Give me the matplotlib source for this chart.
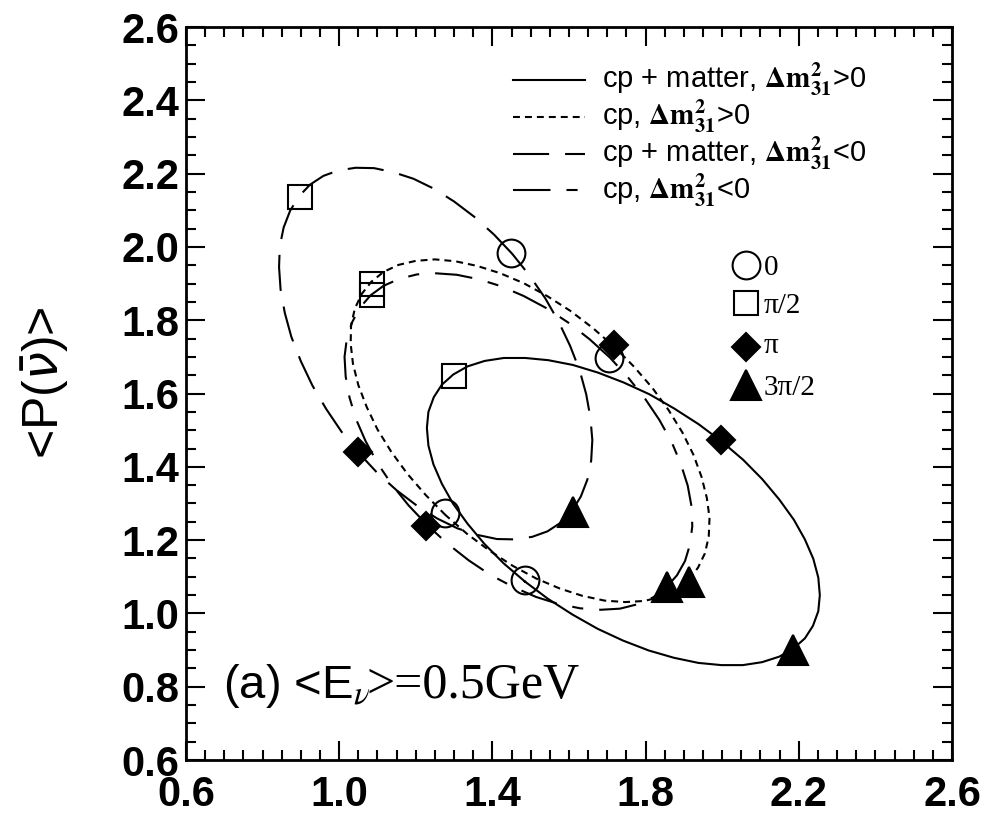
import numpy as np
import matplotlib
matplotlib.use('Agg')
import matplotlib.pyplot as plt
from matplotlib.ticker import MultipleLocator, FormatStrFormatter

plt.rcParams['lines.scale_dashes'] = False
plt.rcParams['mathtext.fontset'] = 'stix'

# trajectories in the (<P(nu)>, <P(nubar)>) plane
# cp + matter, dm^2_31 > 0  (solid)
sol_x = [1.485, 1.429, 1.379, 1.335, 1.297, 1.268, 1.246, 1.233, 1.229, 1.233, 1.247, 1.268,
         1.298, 1.335, 1.380, 1.430, 1.486, 1.546, 1.610, 1.676, 1.743, 1.810, 1.875, 1.939,
         1.999, 2.055, 2.105, 2.149, 2.187, 2.216, 2.238, 2.251, 2.255, 2.251, 2.237, 2.216,
         2.186, 2.149, 2.104, 2.054, 1.998, 1.938, 1.874, 1.808, 1.741, 1.675, 1.609, 1.545]
sol_y = [1.087, 1.137, 1.190, 1.245, 1.300, 1.354, 1.407, 1.458, 1.506, 1.550, 1.590, 1.624,
         1.652, 1.674, 1.689, 1.697, 1.697, 1.691, 1.678, 1.657, 1.630, 1.598, 1.559, 1.516,
         1.469, 1.419, 1.366, 1.311, 1.256, 1.202, 1.149, 1.098, 1.050, 1.006, 0.966, 0.932,
         0.904, 0.882, 0.867, 0.859, 0.859, 0.865, 0.879, 0.899, 0.926, 0.958, 0.997, 1.040]
# cp only, dm^2_31 > 0  (dotted)
dot_x = [1.278, 1.226, 1.178, 1.136, 1.100, 1.072, 1.050, 1.036, 1.030, 1.031, 1.041, 1.059,
         1.084, 1.116, 1.155, 1.200, 1.250, 1.303, 1.361, 1.421, 1.482, 1.543, 1.603, 1.662,
         1.718, 1.770, 1.818, 1.860, 1.896, 1.925, 1.946, 1.960, 1.967, 1.965, 1.955, 1.937,
         1.912, 1.880, 1.841, 1.796, 1.747, 1.693, 1.635, 1.576, 1.515, 1.453, 1.393, 1.334]
dot_y = [1.268, 1.323, 1.381, 1.441, 1.502, 1.563, 1.623, 1.681, 1.736, 1.786, 1.832, 1.872,
         1.905, 1.932, 1.951, 1.962, 1.966, 1.961, 1.948, 1.928, 1.901, 1.866, 1.826, 1.779,
         1.728, 1.673, 1.615, 1.555, 1.494, 1.433, 1.373, 1.315, 1.261, 1.210, 1.164, 1.125,
         1.091, 1.065, 1.045, 1.034, 1.031, 1.035, 1.048, 1.068, 1.095, 1.130, 1.171, 1.217]
# cp + matter, dm^2_31 < 0  (long dash)
ldash_x = [1.452, 1.404, 1.353, 1.300, 1.247, 1.194, 1.141, 1.091, 1.043, 0.999, 0.959, 0.924,
           0.895, 0.872, 0.855, 0.845, 0.843, 0.847, 0.858, 0.875, 0.900, 0.930, 0.966, 1.006,
           1.051, 1.099, 1.150, 1.203, 1.256, 1.309, 1.362, 1.412, 1.460, 1.504, 1.544, 1.579,
           1.608, 1.631, 1.648, 1.658, 1.661, 1.656, 1.645, 1.628, 1.603, 1.573, 1.538, 1.497]
ldash_y = [1.981, 2.034, 2.082, 2.124, 2.159, 2.186, 2.204, 2.215, 2.216, 2.209, 2.194, 2.170,
           2.138, 2.099, 2.053, 2.002, 1.945, 1.884, 1.820, 1.755, 1.688, 1.622, 1.558, 1.496,
           1.438, 1.384, 1.336, 1.294, 1.259, 1.232, 1.214, 1.203, 1.202, 1.209, 1.224, 1.248,
           1.280, 1.319, 1.365, 1.417, 1.473, 1.534, 1.598, 1.663, 1.730, 1.796, 1.860, 1.922]
# cp only, dm^2_31 < 0  (dash)
dash_x = [1.707, 1.654, 1.599, 1.541, 1.482, 1.422, 1.364, 1.307, 1.253, 1.203, 1.157, 1.116,
          1.082, 1.054, 1.034, 1.020, 1.014, 1.017, 1.027, 1.044, 1.069, 1.100, 1.138, 1.181,
          1.230, 1.282, 1.338, 1.395, 1.455, 1.514, 1.572, 1.629, 1.683, 1.733, 1.779, 1.820,
          1.854, 1.882, 1.903, 1.916, 1.922, 1.920, 1.910, 1.892, 1.868, 1.836, 1.798, 1.755]
dash_y = [1.698, 1.748, 1.793, 1.833, 1.866, 1.893, 1.912, 1.924, 1.928, 1.925, 1.913, 1.894,
          1.868, 1.834, 1.795, 1.750, 1.700, 1.646, 1.589, 1.530, 1.470, 1.410, 1.351, 1.295,
          1.241, 1.191, 1.145, 1.105, 1.072, 1.045, 1.026, 1.014, 1.010, 1.013, 1.025, 1.044,
          1.071, 1.104, 1.143, 1.188, 1.238, 1.292, 1.349, 1.408, 1.468, 1.528, 1.587, 1.643]

# delta_cp markers, one per curve (solid, dotted, long dash, dash)
d0_x = [1.484, 1.277, 1.449, 1.704]
d0_y = [1.091, 1.273, 1.984, 1.696]
d90_x = [1.299, 1.085, 0.898, 1.085]
d90_y = [1.648, 1.900, 2.135, 1.870]
d180_x = [1.998, 1.717, 1.048, 1.227]
d180_y = [1.473, 1.732, 1.441, 1.239]
d270_x = [2.186, 1.913, 1.611, 1.857]
d270_y = [0.900, 1.087, 1.277, 1.073]

x_ticks = [0.6, 1.0, 1.4, 1.8, 2.2, 2.6]
y_ticks = [0.6, 0.8, 1.0, 1.2, 1.4, 1.6, 1.8, 2.0, 2.2, 2.4, 2.6]

styles = [dict(ls='-'),
          dict(ls=(0, (5, 3.6))),
          dict(ls=(0, (26, 11.5))),
          dict(ls=(0, (27, 11.5, 8, 11.5)))]
labels = [r'cp + matter, $\mathbf{\Delta m^{2}_{31}}$>0',
          r'cp, $\mathbf{\Delta m^{2}_{31}}$>0',
          r'cp + matter, $\mathbf{\Delta m^{2}_{31}}$<0',
          r'cp, $\mathbf{\Delta m^{2}_{31}}$<0']
curves = [(sol_x, sol_y), (dot_x, dot_y), (ldash_x, ldash_y), (dash_x, dash_y)]

fig = plt.figure(figsize=(10.01, 8.19), dpi=100)
ax = fig.add_axes([0.1858, 0.0720, 0.7652, 0.8950])

for (cx, cy), st in zip(curves, styles):
    cx = np.append(cx, cx[0])
    cy = np.append(cy, cy[0])
    ax.plot(cx, cy, color='black', lw=1.5, **st)

mk = dict(ls='none', mec='black', mew=1.5, zorder=5)
ax.plot(d0_x, d0_y, marker='o', ms=20, mfc='none', **mk)
ax.plot(d90_x, d90_y, marker='s', ms=17, mfc='none', **mk)
ax.plot(d180_x, d180_y, marker='D', ms=14.5, mfc='black', **mk)
ax.plot(d270_x, d270_y, marker='^', ms=21, mfc='black', **mk)

ax.set_xlim(0.6, 2.6)
ax.set_ylim(0.6, 2.6)
ax.set_xticks(x_ticks)
ax.set_yticks(y_ticks)
ax.xaxis.set_minor_locator(MultipleLocator(0.05))
ax.yaxis.set_minor_locator(MultipleLocator(0.05))
ax.xaxis.set_major_formatter(FormatStrFormatter('%.1f'))
ax.yaxis.set_major_formatter(FormatStrFormatter('%.1f'))
ax.tick_params(which='both', direction='in', top=True, right=True, width=1.5)
ax.tick_params(which='major', length=14)
ax.tick_params(which='minor', length=7)
ax.tick_params(axis='x', pad=11)
ax.tick_params(axis='y', pad=5)
for lab in ax.get_xticklabels() + ax.get_yticklabels():
    lab.set_fontfamily('Liberation Sans')
    lab.set_fontweight('bold')
    lab.set_fontsize(30)
for sp in ax.spines.values():
    sp.set_linewidth(2)

ax.text(-0.184, 0.515, r'<P($\bar{\nu}$)>', transform=ax.transAxes, rotation=90,
        ha='center', va='center', fontsize=36, family='Liberation Sans',
        math_fontfamily='dejavusans')

# line legend
line_y = [0.9277, 0.8772, 0.8268, 0.7776]
text_y = [0.9168, 0.8663, 0.8158, 0.7653]
for st, lab, ly, ty in zip(styles, labels, line_y, text_y):
    ax.plot([0.4269, 0.5209], [ly, ly], transform=ax.transAxes, color='black', lw=1.5, **st)
    ax.text(0.5431, ty, lab, transform=ax.transAxes, ha='left', va='baseline',
            fontsize=21, family='Liberation Sans')

# phase legend
ph_y = [0.6753, 0.6235, 0.5634, 0.5116]
ph_ty = [0.6617, 0.6098, 0.5553, 0.4980]
ph_lab = ['0', 'π/2', 'π', '3π/2']
ph_mk = [dict(marker='o', ms=20, mfc='none'), dict(marker='s', ms=17, mfc='none'),
         dict(marker='D', ms=14.5, mfc='black'), dict(marker='^', ms=21, mfc='black')]
for y, ty, lab, m in zip(ph_y, ph_ty, ph_lab, ph_mk):
    ax.plot([0.7311], [y], transform=ax.transAxes, clip_on=False, **m, **mk)
    ax.text(0.7546, ty, lab, transform=ax.transAxes, ha='left', va='baseline',
            fontsize=21, family='Liberation Serif')

ax.text(0.048, 0.0846, r'(a) <E$_{\nu}$', transform=ax.transAxes, ha='left',
        va='baseline', fontsize=34, family='Liberation Sans')
ax.text(0.236, 0.0846, '>=0.5GeV', transform=ax.transAxes, ha='left',
        va='baseline', fontsize=36, family='Liberation Serif')

fig.savefig('out.png', dpi=100)
